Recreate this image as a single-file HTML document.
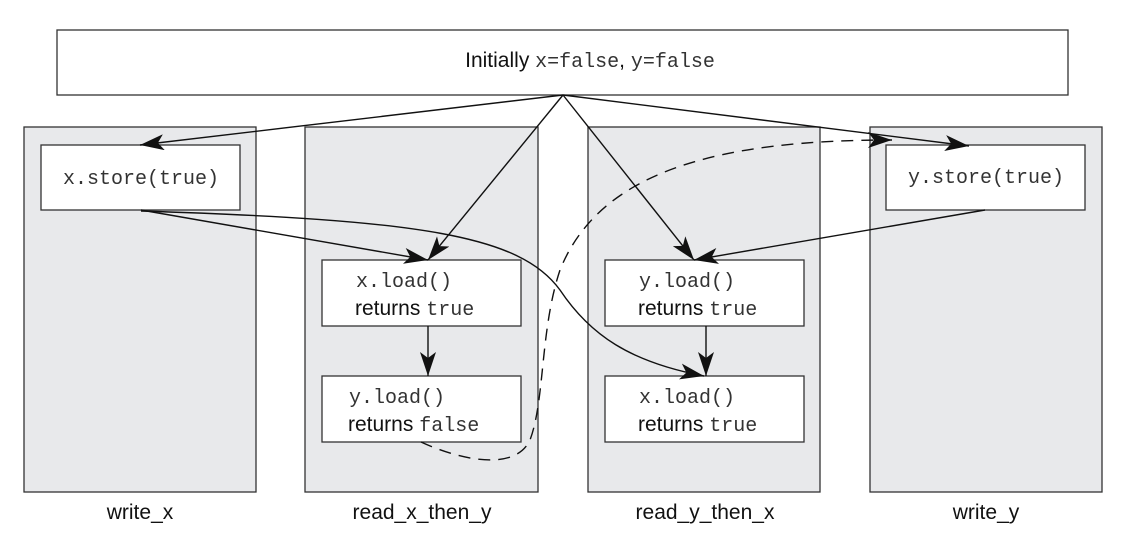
<!DOCTYPE html>
<html><head><style>
body{margin:0;background:#fff}
svg{display:block}
.m{font-family:"Liberation Mono",monospace;font-size:20px;fill:#333}
.s{font-family:"Liberation Sans",sans-serif;font-size:21px;fill:#111}
</style></head><body>
<svg width="1134" height="539" viewBox="0 0 1134 539" xmlns="http://www.w3.org/2000/svg">
<defs>
<marker id="a" viewBox="0 0 24 16" refX="24" refY="8" markerWidth="24" markerHeight="16" markerUnits="userSpaceOnUse" orient="auto">
<path d="M0,0 L24,8 L0,16 L6,8 Z" fill="#111"/>
</marker>
</defs>
<g stroke="#333" stroke-width="1.3">
<rect x="57" y="30" width="1011" height="65" fill="#fff"/>
<rect x="24" y="127" width="232" height="365" fill="#e8e9eb"/>
<rect x="305" y="127" width="233" height="365" fill="#e8e9eb"/>
<rect x="588" y="127" width="232" height="365" fill="#e8e9eb"/>
<rect x="870" y="127" width="232" height="365" fill="#e8e9eb"/>
<rect x="41" y="145" width="199" height="65" fill="#fff"/>
<rect x="886" y="145" width="199" height="65" fill="#fff"/>
<rect x="322" y="260" width="199" height="66" fill="#fff"/>
<rect x="322" y="376" width="199" height="66" fill="#fff"/>
<rect x="605" y="260" width="199" height="66" fill="#fff"/>
<rect x="605" y="376" width="199" height="66" fill="#fff"/>
</g>
<g stroke="#111" stroke-width="1.4" fill="none" marker-end="url(#a)">
<line x1="563" y1="95" x2="140" y2="145"/>
<line x1="563" y1="95" x2="428" y2="260"/>
<line x1="563" y1="95" x2="694" y2="260"/>
<line x1="563" y1="95" x2="969" y2="146"/>
<line x1="141" y1="210" x2="428" y2="260"/>
<line x1="985" y1="210" x2="694" y2="260"/>
<line x1="428" y1="326" x2="428" y2="376"/>
<line x1="706" y1="326" x2="706" y2="376"/>
<path d="M141,211 C420,220 520,235 560,290 C590,335 630,362 704,376"/>
<path d="M421,442 C460,460 515,472 530,440 C545,400 540,330 560,270 C600,170 720,140 892,140" stroke-dasharray="12,8"/>
</g>
<text x="590" y="67" text-anchor="middle"><tspan class="s">Initially </tspan><tspan class="m">x=false</tspan><tspan class="s">, </tspan><tspan class="m">y=false</tspan></text>
<text x="141" y="184" class="m" text-anchor="middle">x.store(true)</text>
<text x="986" y="183" class="m" text-anchor="middle">y.store(true)</text>
<text x="356" y="287" class="m">x.load()</text>
<text x="355" y="315"><tspan class="s">returns </tspan><tspan class="m">true</tspan></text>
<text x="349" y="403" class="m">y.load()</text>
<text x="348" y="431"><tspan class="s">returns </tspan><tspan class="m">false</tspan></text>
<text x="639" y="287" class="m">y.load()</text>
<text x="638" y="315"><tspan class="s">returns </tspan><tspan class="m">true</tspan></text>
<text x="639" y="403" class="m">x.load()</text>
<text x="638" y="431"><tspan class="s">returns </tspan><tspan class="m">true</tspan></text>
<text x="140" y="519" class="s" text-anchor="middle">write_x</text>
<text x="422" y="519" class="s" text-anchor="middle">read_x_then_y</text>
<text x="705" y="519" class="s" text-anchor="middle">read_y_then_x</text>
<text x="986" y="519" class="s" text-anchor="middle">write_y</text>
</svg>
</body></html>
